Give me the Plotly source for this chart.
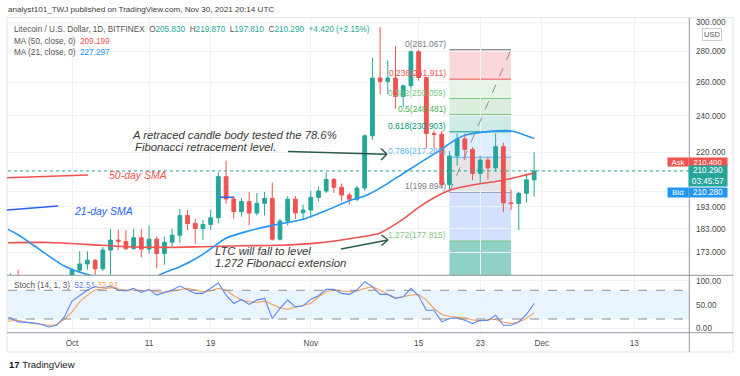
import math
import pandas as pd
import plotly.graph_objects as go

# ---------------- data ----------------
dates = pd.date_range("2021-09-22", "2021-11-30", freq="D")

opens = [150.5, 159.5, 160.5, 150.5, 149.0, 148.5, 146.0, 141.5, 145.5,
         152.5, 165.8, 168.3, 169.8, 166.4, 174.0, 178.2, 177.6, 174.6, 179.2, 174.4, 178.6, 172.6, 177.3, 180.3,
         189.0, 185.4, 183.2, 185.0, 188.0, 207.4, 196.6, 190.8, 195.4, 190.1, 194.6, 196.9, 178.6, 186.5, 196.5, 190.2,
         191.5, 197.4, 200.4, 206.0, 202.2, 198.5, 196.5, 201.8, 228.7, 262.6, 260.5, 262.6, 251.3, 257.8, 279.7,
         263.0, 230.0, 229.6, 203.5, 217.9, 227.0, 221.4, 209.0, 215.8, 211.8, 222.8, 194.8, 194.5, 199.3, 205.83]
highs = [161.0, 164.6, 166.0, 153.0, 152.0, 155.0, 149.5, 148.0, 154.0,
         166.5, 173.5, 173.5, 170.3, 175.3, 183.0, 182.8, 182.5, 183.0, 183.0, 184.5, 179.8, 179.6, 183.0, 192.0,
         191.5, 187.5, 187.0, 191.5, 209.6, 215.5, 198.0, 197.0, 200.0, 199.5, 200.0, 204.5, 187.5, 198.0, 198.0, 194.0,
         200.5, 202.5, 209.6, 206.8, 204.0, 199.5, 203.0, 229.5, 275.7, 296.5, 274.0, 283.5, 258.5, 280.5, 281.067,
         263.5, 231.5, 231.5, 220.5, 230.0, 230.0, 222.5, 218.0, 217.5, 230.0, 225.0, 201.0, 200.0, 209.0, 219.87]
lows = [149.5, 155.5, 145.0, 146.0, 141.5, 145.5, 140.5, 140.0, 145.0,
        151.5, 164.8, 166.0, 164.0, 165.5, 163.5, 174.0, 173.9, 174.3, 171.0, 172.5, 166.5, 168.0, 175.5, 177.0,
        182.5, 176.6, 178.2, 182.5, 185.5, 194.5, 187.5, 188.5, 184.5, 189.0, 189.0, 178.0, 178.0, 184.5, 187.5, 187.0,
        188.0, 195.5, 199.5, 199.5, 195.5, 194.0, 195.5, 200.5, 226.5, 252.5, 252.5, 244.0, 245.0, 256.0, 261.0,
        222.0, 222.0, 202.0, 201.0, 213.0, 215.8, 205.7, 204.5, 206.0, 210.0, 190.5, 191.5, 182.5, 195.0, 197.81]
closes = [159.5, 160.5, 150.5, 149.0, 148.5, 146.0, 141.5, 145.5, 152.5,
          165.8, 168.3, 169.8, 166.4, 174.0, 178.2, 177.6, 174.6, 179.2, 174.4, 178.6, 172.6, 177.3, 180.3, 189.0,
          185.4, 183.2, 185.0, 188.0, 207.4, 196.6, 190.8, 195.4, 190.1, 194.6, 196.9, 178.6, 186.5, 196.5, 190.2, 191.5,
          197.4, 200.4, 206.0, 202.2, 198.5, 196.5, 201.8, 228.7, 262.6, 260.5, 262.6, 251.3, 257.8, 279.7, 263.0,
          230.0, 229.6, 203.5, 217.9, 227.0, 221.4, 209.0, 215.8, 211.8, 222.8, 194.8, 194.5, 199.3, 205.83, 210.29]

ma50_dates = ["2021-09-22", "2021-09-28", "2021-10-03", "2021-10-08", "2021-10-13", "2021-10-18", "2021-10-23",
              "2021-10-28", "2021-11-02", "2021-11-07", "2021-11-10", "2021-11-13", "2021-11-15", "2021-11-17",
              "2021-11-19", "2021-11-21", "2021-11-23", "2021-11-25", "2021-11-27", "2021-11-29", "2021-11-30"]
ma50_vals = [177.0, 177.2, 176.4, 175.4, 175.1, 175.4, 175.8, 176.0, 177.0, 179.3, 181.3, 187.4, 192.7, 197.2,
             200.8, 202.6, 203.9, 205.0, 206.5, 208.3, 209.2]

ma21_dates = ["2021-09-22", "2021-09-24", "2021-09-26", "2021-09-28", "2021-09-30", "2021-10-02", "2021-10-05",
              "2021-10-08", "2021-10-11", "2021-10-13", "2021-10-15", "2021-10-17", "2021-10-19", "2021-10-21",
              "2021-10-24", "2021-10-27", "2021-10-31", "2021-11-03", "2021-11-06", "2021-11-08", "2021-11-10",
              "2021-11-13", "2021-11-15", "2021-11-18", "2021-11-19", "2021-11-21", "2021-11-24", "2021-11-27",
              "2021-11-28", "2021-11-30"]
ma21_vals = [184.0, 180.5, 176.0, 171.5, 167.5, 165.0, 162.8, 161.5, 162.3, 164.8, 167.2, 170.3, 174.5, 179.0,
             182.2, 184.6, 187.3, 191.3, 195.8, 198.0, 201.8, 209.0, 214.0, 221.5, 224.5, 229.0, 231.0, 231.4,
             230.3, 227.3]

stoch_k = [23, 22.3, 13.9, 13.5, 12, 8.4, 3.4, 6.9, 24.4,
           57.4, 68.5, 80.5, 87.4, 85.3, 88.9, 80.5, 78.4, 84, 75.6, 81.9, 70, 75.6, 80.5, 88.9, 81.9, 73.5, 73.5,
           84, 95.2, 70, 52.5, 60.9, 50.4, 59.5, 63, 21, 42, 59.5, 45.4, 47.5,
           60.9, 68.5, 81.9, 81.9, 73.5, 71.4, 80.5, 97.9, 87.4, 71.4, 71.4, 63, 66.4, 84, 68.5, 38.4, 38.4, 13.9,
           21, 22.3, 17.4, 10.5, 17.4, 16.9, 27.9, 6.9, 6.9, 13.9, 29.4, 52.51]
stoch_d = [14, 16, 17.4, 13.9, 10.5, 9, 6.9, 8.4, 19.5,
           34.9, 55.9, 70, 80.5, 82.6, 85.3, 82.6, 80.5, 80.5, 79, 80.5, 76.9, 75.6, 78.4, 82.6, 84, 80.5, 76.9,
           78.4, 84, 80.5, 68.5, 59.5, 55.9, 54.6, 57.4, 50.4, 43.3, 40.5, 45.4, 48.9,
           52.5, 66.4, 76.9, 80.5, 78.4, 76.9, 78.4, 84, 87.4, 80.5, 71.4, 64.3, 66.4, 70, 71.4, 59.5, 42, 29.4,
           25.2, 24.4, 22.3, 18.1, 16, 18.9, 18.9, 13.9, 10.5, 13.9, 21, 32.92]

fib_ratios = ["0", "0.236", "0.382", "0.5", "0.618", "0.786", "1", "1.272", "1.618"]
fib_levels = [281.067, 261.911, 250.059, 240.481, 230.903, 217.265, 199.894, 177.815, 149.73]
fib_start, fib_end = "2021-11-19", "2021-11-27"

price_ticks = [173, 183, 193, 200, 220, 240, 260, 280, 300]
price_ticktext = ["173.000", "183.000", "193.000", "", "220.000", "240.000", "260.000", "280.000", "300.000"]
date_ticks = ["2021-10-01", "2021-10-11", "2021-10-19", "2021-11-01", "2021-11-15", "2021-11-23",
              "2021-12-01", "2021-12-13"]
date_ticktext = ["Oct", "11", "19", "Nov", "15", "23", "Dec", "13"]

# ---------------- styling ----------------
FONT = "Liberation Sans, Arial, sans-serif"
UP, DOWN = "#26a69a", "#ef5350"
GRID = "#eef1f6"
TXT = "#4a4a4a"

W, H = 740, 376
L, R, T, B = 8, 689, 18, 333
MAIN_BOTTOM = 275.3


def px(x):
    return (x - L) / (R - L)


def py(y):
    return (B - y) / (B - T)


fig = go.Figure()

fig.add_trace(go.Candlestick(
    x=dates, open=opens, high=highs, low=lows, close=closes,
    increasing=dict(line=dict(color=UP, width=1), fillcolor=UP),
    decreasing=dict(line=dict(color=DOWN, width=1), fillcolor=DOWN),
    xaxis="x", yaxis="y", showlegend=False, hoverinfo="skip"))

fig.add_trace(go.Scatter(x=pd.to_datetime(ma50_dates), y=ma50_vals, mode="lines",
                         line=dict(color="#f0524f", width=1.6, shape="spline", smoothing=0.8),
                         xaxis="x", yaxis="y", showlegend=False, hoverinfo="skip"))
fig.add_trace(go.Scatter(x=pd.to_datetime(ma21_dates), y=ma21_vals, mode="lines",
                         line=dict(color="#2196f3", width=1.6, shape="spline", smoothing=0.8),
                         xaxis="x", yaxis="y", showlegend=False, hoverinfo="skip"))

fig.add_trace(go.Scatter(x=dates, y=stoch_d, mode="lines", line=dict(color="#f7a05a", width=1.1),
                         xaxis="x2", yaxis="y2", showlegend=False, hoverinfo="skip"))
fig.add_trace(go.Scatter(x=dates, y=stoch_k, mode="lines", line=dict(color="#5a86f5", width=1.1),
                         xaxis="x2", yaxis="y2", showlegend=False, hoverinfo="skip"))

shapes = []
annotations = []

# Fibonacci bands / lines
band_colors = ["rgba(242,54,69,0.2)", "rgba(129,199,132,0.2)", "rgba(76,175,80,0.2)", "rgba(8,153,129,0.2)",
               "rgba(100,181,246,0.22)", "rgba(120,123,134,0.2)", "rgba(41,98,255,0.2)", "rgba(8,153,129,0.45)"]
line_colors = ["#787b86", "#ef5350", "#81c784", "#4caf50", "#089981", "#64b5f6", "#787b86", "#81c784", "#089981"]
for i in range(len(fib_levels) - 1):
    shapes.append(dict(type="rect", xref="x", yref="y", x0=fib_start, x1=fib_end,
                       y0=fib_levels[i + 1], y1=fib_levels[i], fillcolor=band_colors[i],
                       line=dict(width=0), layer="below"))
for i, lev in enumerate(fib_levels):
    shapes.append(dict(type="line", xref="x", yref="y", x0=fib_start, x1=fib_end, y0=lev, y1=lev,
                       line=dict(color=line_colors[i], width=1), layer="below"))
    if i < len(fib_levels) - 1:
        annotations.append(dict(xref="x", yref="y", x=fib_start, y=math.log10(lev),
                                text=f"{fib_ratios[i]}({lev:.3f})", showarrow=False,
                                xanchor="right", yanchor="bottom", xshift=-1, yshift=-1,
                                font=dict(family=FONT, size=8.5, color=line_colors[i])))
shapes.append(dict(type="line", xref="x", yref="y", x0=fib_start, x1=fib_end,
                   y0=fib_levels[6], y1=fib_levels[0],
                   line=dict(color="#8a8d96", width=1, dash="dash")))

# small blue drawing dash
shapes.append(dict(type="line", xref="x", yref="y", x0="2021-10-20 05:00", x1="2021-10-22",
                   y0=197.4, y1=197.4, line=dict(color="#2962ff", width=1.5)))

# current price dotted line
shapes.append(dict(type="line", xref="paper", yref="y", x0=0, x1=1, y0=closes[-1], y1=closes[-1],
                   line=dict(color=UP, width=1, dash="dot")))

# stochastic band
shapes.append(dict(type="rect", xref="paper", yref="y2", x0=0, x1=1, y0=20, y1=80,
                   fillcolor="rgba(33,150,243,0.1)", line=dict(width=0), layer="below"))
for lv in (20, 80):
    shapes.append(dict(type="line", xref="paper", yref="y2", x0=0, x1=1, y0=lv, y1=lv,
                       line=dict(color="#8a8d96", width=1, dash="dash")))


def pline(x0, y0, x1, y1, color, width=1):
    shapes.append(dict(type="line", xref="paper", yref="paper", x0=px(x0), y0=py(y0), x1=px(x1), y1=py(y1),
                       line=dict(color=color, width=width)))


# frame & separators
shapes.append(dict(type="rect", xref="paper", yref="paper", x0=px(7), x1=px(733), y0=py(352), y1=py(17.7),
                   line=dict(color="#e0e3eb", width=1)))
pline(7, MAIN_BOTTOM, 733, MAIN_BOTTOM, "#9598a1", 1)
pline(7, 332.7, 733, 332.7, "#9598a1", 1)
pline(689.3, 17.7, 689.3, 352, "#9598a1", 1)

# annotation drawings
ARROW = "#2a5a4f"
pline(7, 177.7, 88, 175, "#ef5350", 1.6)
pline(7, 210, 58, 206, "#2962ff", 1.6)
pline(288, 151.5, 387, 154.3, ARROW, 1.5)
pline(381, 148.5, 387, 154.3, ARROW, 1.5)
pline(381, 160.0, 387, 154.3, ARROW, 1.5)
pline(341, 249, 388, 240, ARROW, 1.5)
pline(381.5, 235.0, 388, 240, ARROW, 1.5)
pline(381.5, 245.5, 388, 240, ARROW, 1.5)


def note(x, y, text, size, color, xanchor="left", yanchor="middle", **kw):
    d = dict(xref="paper", yref="paper", x=px(x), y=py(y), text=text, showarrow=False,
             font=dict(family=FONT, size=size, color=color), xanchor=xanchor, yanchor=yanchor)
    d.update(kw)
    annotations.append(d)


NB = "\u00a0"
note(6, 9.5, "analyst101_TWJ published on TradingView.com, Nov 30, 2021 20:14 UTC", 8.1, "#3a3a3a")


def ohlc(letter, val):
    return f"{letter}<span style='color:{UP}'>{val}</span>"


legend2 = ("Litecoin / U.S. Dollar, 1D, BITFINEX" + NB * 2 + ohlc("O", "205.830") + NB * 2 + ohlc("H", "219.870")
           + NB * 2 + ohlc("L", "197.810") + NB * 2 + ohlc("C", "210.290") + NB * 2
           + f"<span style='color:{UP}'>+4.420 (+2.15%)</span>")
note(12, 29.5, legend2, 8.2, "#555555")
note(12, 41.7, "MA (50, close, 0)" + NB * 2 + "<span style='color:#f0524f'>209.199</span>", 8.2, "#555555")
note(12, 52.3, "MA (21, close, 0)" + NB * 2 + "<span style='color:#2196f3'>227.297</span>", 8.2, "#555555")
note(11.5, 285.7, "Stoch (14, 1, 3)" + NB * 2 + "<span style='color:#5a86f5'>52.51</span>" + NB
     + "<span style='color:#f7a05a'>32.92</span>", 8.2, "#555555")

IT = "#383838"
note(130, 134.8, "<i>A retraced candle body tested the 78.6%</i>", 11.3, IT)
note(133, 146.5, "<i>Fibonacci retracement level.</i>", 11.3, IT)
note(107, 175, "<i>50-day SMA</i>", 10.5, "#ef5350")
note(72, 210.7, "<i>21-day SMA</i>", 10.5, "#2962ff")
note(213, 251.2, "<i>LTC will fall to level</i>", 11.3, IT)
note(213, 262.5, "<i>1.272 Fibonacci extension</i>", 11.3, IT)

# price tags on the axis
note(678, 162.0, "Ask", 7.8, "white", xanchor="center", bgcolor="#ef5350", width=20, height=8, borderpad=0)
note(708, 162.0, "210.400", 7.8, "white", xanchor="center", bgcolor="#ef5350", width=38, height=8, borderpad=0)
note(708, 176.4, "210.290<br>03:45:57", 8.2, "white", xanchor="center", bgcolor=UP, width=38, height=20,
     borderpad=0)
note(678, 192.8, "Bid", 7.8, "white", xanchor="center", bgcolor="#2196f3", width=20, height=9, borderpad=0)
note(708, 192.8, "210.280", 8.2, "white", xanchor="center", bgcolor="#2196f3", width=38, height=9, borderpad=0)
note(711.5, 34.5, "USD", 7.5, "#555555", xanchor="center", bgcolor="white", bordercolor="#c9ccd4",
     borderwidth=1, borderpad=1)

# TradingView footer
note(7, 364, "<b>17</b>" + NB + "TradingView", 9.5, "#131722")

fig.update_layout(
    width=W, height=H,
    margin=dict(l=L, r=W - R, t=T, b=H - B, pad=0),
    paper_bgcolor="white", plot_bgcolor="white",
    showlegend=False, hovermode=False,
    font=dict(family=FONT, size=8.2, color=TXT),
    xaxis=dict(domain=[0, 1], anchor="y", type="date",
               range=["2021-09-22 16:30", "2021-12-20 02:30"],
               tickvals=date_ticks, ticktext=date_ticktext, showticklabels=False,
               showgrid=True, gridcolor=GRID, gridwidth=1, zeroline=False, showline=False,
               rangeslider=dict(visible=False)),
    xaxis2=dict(domain=[0, 1], anchor="y2", type="date", matches="x",
                range=["2021-09-22 16:30", "2021-12-20 02:30"],
                tickvals=date_ticks, ticktext=date_ticktext, showticklabels=True,
                tickfont=dict(family=FONT, size=8.2, color=TXT), ticks="", ticklabelstandoff=4,
                showgrid=True, gridcolor=GRID, gridwidth=1, zeroline=False, showline=False,
                rangeslider=dict(visible=False)),
    yaxis=dict(domain=[py(MAIN_BOTTOM), 1], anchor="x", type="log", side="right",
               range=[math.log10(163.8), math.log10(303.2)],
               tickvals=price_ticks, ticktext=price_ticktext, ticks="", ticklabelstandoff=6,
               tickfont=dict(family=FONT, size=8.2, color=TXT),
               showgrid=True, gridcolor=GRID, gridwidth=1, zeroline=False, showline=False),
    yaxis2=dict(domain=[0, py(MAIN_BOTTOM)], anchor="x2", side="right",
                range=[-9.24, 111.3], tickvals=[0, 50, 100], ticktext=["0.00", "50.00", "100.00"],
                ticks="", ticklabelstandoff=6, tickfont=dict(family=FONT, size=8.2, color=TXT),
                showgrid=True, gridcolor=GRID, gridwidth=1, zeroline=False, showline=False),
    shapes=shapes,
    annotations=annotations,
)

fig.write_html("out.html", config={"displayModeBar": False, "staticPlot": True},
               post_script="document.body.style.margin='0';")
